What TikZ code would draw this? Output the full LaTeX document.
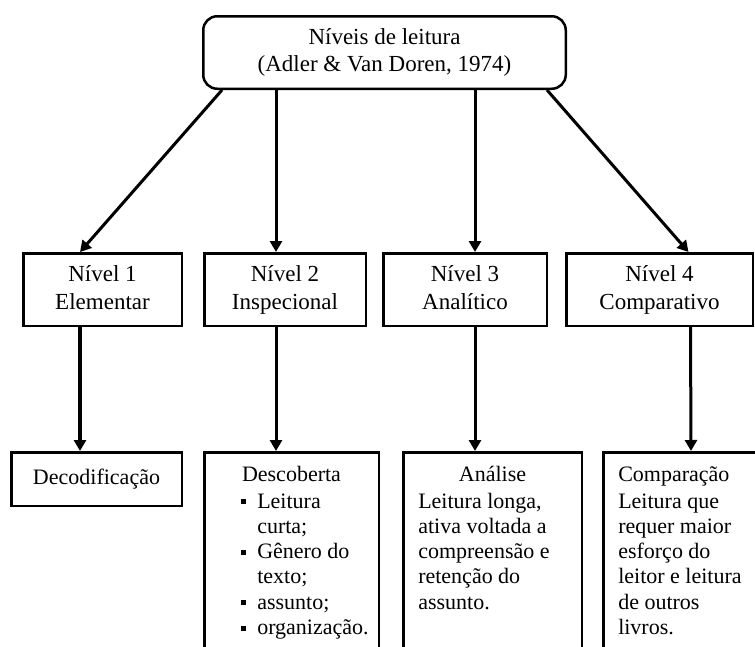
\documentclass[tikz,border=0pt]{standalone}
\usepackage{fontspec}
\setmainfont{Liberation Serif}
\usetikzlibrary{positioning,arrows.meta}

\newcommand{\sqbullet}{\makebox[16pt][l]{\rule[4pt]{4.5pt}{5pt}}}

\tikzset{
    levelbox/.style={draw, line width=2.5pt, minimum width=#1, minimum height=72.5pt, align=center, font=\fontsize{23}{28}\selectfont},
    detailbox/.style={draw, line width=2.5pt, anchor=north west, inner sep=0pt, font=\fontsize{22}{25.3}\selectfont},
    arrowline/.style={line width=3pt, -{Triangle[length=11pt,width=12pt]}}
}

\begin{document}
\begin{tikzpicture}[x=1pt,y=1pt]
    \clip (0,0) rectangle (755,-646);

    \node (top) [draw, line width=2.5pt, rounded corners=14pt, minimum width=362.5pt, minimum height=72.5pt, align=center, font=\fontsize{23}{27}\selectfont] at (384.5,-52.5) {Níveis de leitura\\(Adler \& Van Doren, 1974)};

    \node (n1) [levelbox=158.5pt] at (102.5,-289.5) {\strut Nível 1\\\strut Elementar};
    \node (n2) [levelbox=161.5pt, right = 20pt of n1] {\strut Nível 2\\\strut Inspecional};
    \node (n3) [levelbox=163.5pt, right = 15pt of n2] {\strut Nível 3\\\strut Analítico};
    \node (n4) [levelbox=186.5pt, right = 17pt of n3] {\strut Nível 4\\\strut Comparativo};

    \node (d1) [detailbox, inner sep=2pt, minimum width=170.5pt, minimum height=53.5pt] at (10,-451) {Decodificação};
    \node (d2) [detailbox] at (203,-451) {\parbox[c][210pt][t]{174.5pt}{\centering\rule{0pt}{29pt}Descoberta\par\vspace{1.5pt}
        \raggedright\leftskip=37pt
        \sqbullet Leitura\\ \hspace*{16pt}curta;\\ \sqbullet Gênero do\\ \hspace*{16pt}texto;\\ \sqbullet assunto;\\ \sqbullet organização.}};
    \node (d3) [detailbox] at (402,-451) {\parbox[c][210pt][t]{178.5pt}{\centering\rule{0pt}{29pt}Análise\par\vspace{1.5pt}
        \raggedright\leftskip=15pt
        Leitura longa,\\ ativa voltada a\\ compreensão e\\ retenção do\\ assunto.}};
    \node (d4) [detailbox] at (602,-451) {\parbox[c][210pt][t]{167.5pt}{\raggedright\leftskip=15pt
        \rule{0pt}{29pt}Comparação\par\vspace{1.5pt}
        Leitura que\\ requer maior\\ esforço do\\ leitor e leitura\\ de outros\\ livros.}};

    \draw[arrowline] ([xshift=20pt]top.south west) -- ([xshift=-22.5pt]n1.north);
    \draw[arrowline] ([xshift=-108.5pt]top.south) -- ([xshift=-9pt]n2.north);
    \draw[arrowline] ([xshift=90.5pt]top.south) -- ([xshift=10pt]n3.north);
    \draw[arrowline] ([xshift=-20pt]top.south east) -- ([xshift=29pt]n4.north);

    \draw[arrowline, line width=3.5pt] ([xshift=-22.5pt]n1.south) -- ([xshift=-16.5pt]d1.north);
    \draw[arrowline] ([xshift=-9pt]n2.south) -- ([xshift=-15.5pt]d2.north);
    \draw[arrowline] ([xshift=10pt]n3.south) -- ([xshift=-17.5pt]d3.north);
    \draw[arrowline] ([xshift=31pt]n4.south) -- ([xshift=4pt]d4.north);
\end{tikzpicture}
\end{document}
